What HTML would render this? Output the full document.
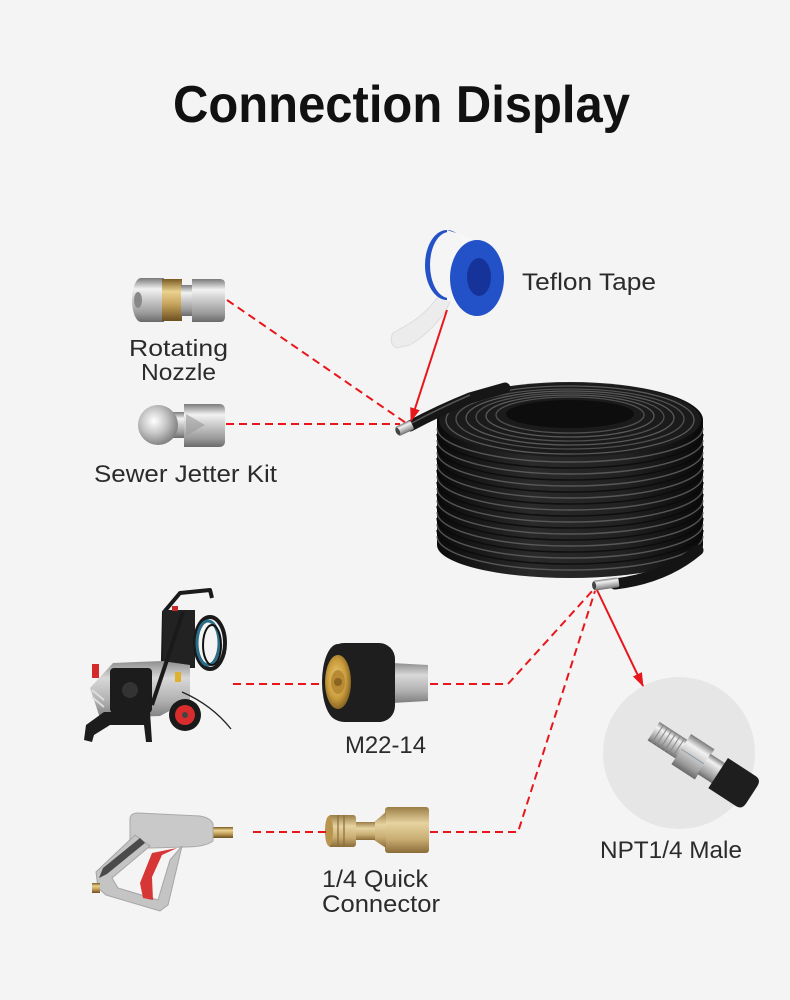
<!DOCTYPE html>
<html><head><meta charset="utf-8">
<style>
html,body{margin:0;padding:0;background:#f4f4f4;}
svg{display:block;}
text{font-family:"Liberation Sans",Arial,sans-serif;fill:#2b2b2b;}
</style></head>
<body>
<svg width="790" height="1000" viewBox="0 0 790 1000" xmlns="http://www.w3.org/2000/svg">
<defs>
  <linearGradient id="sv" x1="0" y1="0" x2="0" y2="1">
    <stop offset="0" stop-color="#7a7a7a"/><stop offset=".25" stop-color="#f2f2f2"/>
    <stop offset=".5" stop-color="#c9c9c9"/><stop offset=".8" stop-color="#9a9a9a"/><stop offset="1" stop-color="#6a6a6a"/>
  </linearGradient>
  <linearGradient id="br" x1="0" y1="0" x2="0" y2="1">
    <stop offset="0" stop-color="#7a5a22"/><stop offset=".3" stop-color="#ead28f"/>
    <stop offset=".6" stop-color="#c6a35c"/><stop offset="1" stop-color="#6e5020"/>
  </linearGradient>
  <linearGradient id="br2" x1="0" y1="0" x2="0" y2="1">
    <stop offset="0" stop-color="#9a7d45"/><stop offset=".35" stop-color="#e6d3a0"/>
    <stop offset=".7" stop-color="#c9ad72"/><stop offset="1" stop-color="#8a6c38"/>
  </linearGradient>
  <radialGradient id="gold" cx=".45" cy=".45" r=".6">
    <stop offset="0" stop-color="#f0d27a"/><stop offset=".6" stop-color="#c99b3c"/><stop offset="1" stop-color="#7a5a1e"/>
  </radialGradient>
  <radialGradient id="ball" cx=".4" cy=".4" r=".65">
    <stop offset="0" stop-color="#ffffff"/><stop offset=".5" stop-color="#c4c4c4"/><stop offset="1" stop-color="#7a7a7a"/>
  </radialGradient>
  <linearGradient id="coilg" x1="0" y1="0" x2="1" y2="0">
    <stop offset="0" stop-color="#0b0b0b"/><stop offset=".35" stop-color="#2a2a2a"/>
    <stop offset=".7" stop-color="#222"/><stop offset="1" stop-color="#0a0a0a"/>
  </linearGradient>
  <linearGradient id="gray" x1="0" y1="0" x2="0" y2="1">
    <stop offset="0" stop-color="#8e8e8e"/><stop offset=".3" stop-color="#d8d8d8"/>
    <stop offset=".7" stop-color="#b0b0b0"/><stop offset="1" stop-color="#7e7e7e"/>
  </linearGradient>
  <marker id="ah" viewBox="0 0 14 10" refX="13" refY="5" markerWidth="14" markerHeight="10" markerUnits="userSpaceOnUse" orient="auto">
    <path d="M0 0 L14 5 L0 10 Z" fill="#e8161b"/>
  </marker>
</defs>

<!-- Title -->
<text x="173" y="122" font-size="52" font-weight="bold" fill="#111" textLength="457" lengthAdjust="spacingAndGlyphs" style="fill:#111">Connection Display</text>

<!-- Hose coil -->
<g>
  <path d="M437 420 A133 38 0 0 1 703 420 L703 545 A133 33 0 0 1 437 545 Z" fill="url(#coilg)"/>
  <g fill="none" stroke="#6a6a6a" stroke-width="1.4" opacity=".75">
    <path d="M437 428 A133 34 0 0 0 703 428"/>
    <path d="M437 440 A133 34 0 0 0 703 440"/>
    <path d="M437 452 A133 34 0 0 0 703 452"/>
    <path d="M437 464 A133 34 0 0 0 703 464"/>
    <path d="M437 476 A133 34 0 0 0 703 476"/>
    <path d="M437 488 A133 34 0 0 0 703 488"/>
    <path d="M437 500 A133 34 0 0 0 703 500"/>
    <path d="M437 512 A133 34 0 0 0 703 512"/>
    <path d="M437 524 A133 34 0 0 0 703 524"/>
    <path d="M437 536 A133 34 0 0 0 703 536"/>
  </g>
  <g fill="none" stroke="#0a0a0a" stroke-width="1.5" opacity=".8">
    <path d="M437 434 A133 34 0 0 0 703 434"/>
    <path d="M437 446 A133 34 0 0 0 703 446"/>
    <path d="M437 458 A133 34 0 0 0 703 458"/>
    <path d="M437 470 A133 34 0 0 0 703 470"/>
    <path d="M437 482 A133 34 0 0 0 703 482"/>
    <path d="M437 494 A133 34 0 0 0 703 494"/>
    <path d="M437 506 A133 34 0 0 0 703 506"/>
    <path d="M437 518 A133 34 0 0 0 703 518"/>
    <path d="M437 530 A133 34 0 0 0 703 530"/>
  </g>
  <ellipse cx="570" cy="420" rx="131" ry="37" fill="#1b1b1b"/>
  <g fill="none" stroke-width="1.3">
    <ellipse cx="570" cy="420" rx="124" ry="34" stroke="#5a5a5a"/>
    <ellipse cx="570" cy="419" rx="114" ry="30" stroke="#505050"/>
    <ellipse cx="570" cy="418" rx="104" ry="27" stroke="#5a5a5a"/>
    <ellipse cx="570" cy="417" rx="94" ry="24" stroke="#505050"/>
    <ellipse cx="570" cy="416" rx="84" ry="21" stroke="#5a5a5a"/>
    <ellipse cx="570" cy="415" rx="74" ry="18" stroke="#505050"/>
  </g>
  <ellipse cx="570" cy="414" rx="64" ry="14" fill="#0d0d0d"/>
  <!-- top tail -->
  <path d="M410 426 Q440 410 470 398 L505 388" fill="none" stroke="#161616" stroke-width="11" stroke-linecap="round"/>
  <path d="M412 423 Q440 408 470 395" fill="none" stroke="#555" stroke-width="1.5"/>
  <g transform="rotate(-25 405 428)">
    <rect x="396" y="423" width="17" height="10" rx="2" fill="url(#sv)"/>
    <ellipse cx="397" cy="428" rx="2" ry="4" fill="#444"/>
  </g>
  <!-- bottom tail -->
  <path d="M615 584 Q665 578 698 550" fill="none" stroke="#141414" stroke-width="11" stroke-linecap="round"/>
  <g transform="rotate(-8 606 584)">
    <rect x="593" y="579" width="26" height="10" rx="2" fill="url(#sv)"/>
    <ellipse cx="594" cy="584" rx="2" ry="4" fill="#444"/>
  </g>
</g>

<!-- Teflon tape -->
<g>
  <path d="M441 292 Q430 310 412 322 L393 333 Q388 342 396 348 L410 345 Q428 335 445 312 L452 298 Z" fill="#ececec" stroke="#dcdcdc"/>
  <ellipse cx="447" cy="265" rx="22" ry="35" fill="#2451c6"/>
  <path d="M447 230 L477 240 L477 316 L447 300 Z" fill="#f7f7f7"/>
  <ellipse cx="449" cy="265" rx="19" ry="33" fill="#f5f5f5"/>
  <ellipse cx="477" cy="278" rx="27" ry="38" fill="#2352c8"/>
  <ellipse cx="479" cy="277" rx="12" ry="19" fill="#16339a"/>
</g>
<text x="522" y="290" font-size="24" textLength="134" lengthAdjust="spacingAndGlyphs">Teflon Tape</text>

<!-- Rotating nozzle -->
<g>
  <rect x="140" y="278" width="24" height="44" fill="url(#sv)"/>
  <ellipse cx="141" cy="300" rx="9" ry="22" fill="url(#sv)"/>
  <ellipse cx="138" cy="300" rx="4" ry="8" fill="#888"/>
  <rect x="162" y="279" width="20" height="42" fill="url(#br)"/>
  <rect x="181" y="285" width="12" height="31" fill="url(#sv)"/>
  <path d="M192 279 L220 279 Q225 279 225 284 L225 317 Q225 322 220 322 L192 322 Z" fill="url(#sv)"/>
</g>
<text x="129" y="356" font-size="23" textLength="99" lengthAdjust="spacingAndGlyphs">Rotating</text>
<text x="141" y="380" font-size="23" textLength="75" lengthAdjust="spacingAndGlyphs">Nozzle</text>

<!-- Sewer nozzle -->
<g>
  <rect x="172" y="412" width="14" height="26" fill="url(#sv)"/>
  <circle cx="158" cy="425" r="20" fill="url(#ball)"/>
  <path d="M184 404 L219 404 Q225 404 225 410 L225 441 Q225 447 219 447 L184 447 Z" fill="url(#sv)"/>
  <path d="M186 414 L205 425 L186 436 Z" fill="#9a9a9a" opacity=".6"/>
</g>
<text x="94" y="482" font-size="24" textLength="183" lengthAdjust="spacingAndGlyphs">Sewer Jetter Kit</text>

<!-- Pressure washer -->
<g>
  <path d="M162 705 L164 612 L180 593 L210 590 L212 598" fill="none" stroke="#1a1a1a" stroke-width="4" stroke-linejoin="round"/>
  <rect x="163" y="610" width="32" height="58" fill="#222"/>
  <rect x="172" y="606" width="6" height="5" fill="#c62828"/>
  <ellipse cx="210" cy="643" rx="15" ry="26" fill="none" stroke="#1a1a1a" stroke-width="4"/>
  <ellipse cx="208" cy="643" rx="11" ry="22" fill="none" stroke="#2b6d86" stroke-width="3"/>
  <ellipse cx="212" cy="645" rx="9" ry="20" fill="none" stroke="#111" stroke-width="2"/>
  <path d="M90 688 L113 663 L162 661 L190 665 L190 700 L160 716 L100 718 Z" fill="url(#gray)"/>
  <rect x="110" y="668" width="42" height="45" rx="4" fill="#1c1c1c"/>
  <circle cx="130" cy="690" r="8" fill="#333"/>
  <path d="M183 612 L152 705" stroke="#1a1a1a" stroke-width="4"/>
  <path d="M84 740 L86 725 L104 712 L150 712 L152 742 L146 742 L144 725 L110 725 L94 735 L92 742 Z" fill="#1c1c1c"/>
  <rect x="92" y="664" width="7" height="14" fill="#d42a2a"/>
  <path d="M92 690 L104 700 M92 697 L104 707" stroke="#ddd" stroke-width="2"/>
  <circle cx="185" cy="715" r="16" fill="#1a1a1a"/>
  <circle cx="185" cy="715" r="10" fill="#d92c2c"/>
  <circle cx="185" cy="715" r="3" fill="#444"/>
  <path d="M182 692 Q212 705 231 729" fill="none" stroke="#222" stroke-width="1.3"/>
  <rect x="175" y="672" width="6" height="10" fill="#e0b030"/>
</g>

<!-- M22-14 -->
<g>
  <path d="M392 663 L428 665 L428 701 L392 703 Z" fill="url(#gray)"/>
  <rect x="328" y="643" width="67" height="79" rx="16" fill="#1e1e1e"/>
  <ellipse cx="338" cy="682" rx="16" ry="38" fill="#1e1e1e"/>
  <ellipse cx="338" cy="682" rx="13" ry="27" fill="url(#gold)"/>
  <ellipse cx="338" cy="682" rx="7" ry="12" fill="#b88a34"/>
  <circle cx="338" cy="682" r="4" fill="#8a6422"/>
</g>
<text x="345" y="753" font-size="24" textLength="81" lengthAdjust="spacingAndGlyphs">M22-14</text>

<!-- Gun -->
<g>
  <rect x="213" y="827" width="20" height="11" fill="url(#br)"/>
  <path d="M130 818 Q131 813 138 813 L200 816 Q211 818 213 824 L213 841 Q205 847 185 847 L150 848 Q134 848 130 840 Z" fill="#c9c9c9" stroke="#a9a9a9"/>
  <path d="M182 846 L168 905 L160 911 L106 895 L98 888 L96 872 L135 835 L150 846 L112 878 L118 888 L158 900 L170 860 Z" fill="#c4c4c4" stroke="#a5a5a5"/>
  <path d="M140 838 L103 868 L99 878 L107 874 L145 843 Z" fill="#4a4a4a"/>
  <path d="M177 848 L152 853 L140 883 L143 898 L153 900 L152 877 L162 855 Z" fill="#d63636"/>
  <rect x="92" y="883" width="8" height="10" fill="url(#br)"/>
</g>

<!-- Quick connector -->
<g>
  <rect x="385" y="807" width="44" height="46" rx="3" fill="url(#br2)"/>
  <path d="M374 822 L386 812 L386 848 L374 840 Z" fill="url(#br2)"/>
  <rect x="355" y="822" width="20" height="18" fill="url(#br2)"/>
  <rect x="328" y="815" width="28" height="32" rx="3" fill="url(#br2)"/>
  <ellipse cx="329" cy="831" rx="4" ry="15" fill="#b8944c"/>
  <path d="M338 815 L338 847 M344 815 L344 847" stroke="#8a6c38" stroke-width="1.2"/>
</g>
<text x="322" y="887" font-size="24" textLength="106" lengthAdjust="spacingAndGlyphs">1/4 Quick</text>
<text x="322" y="912" font-size="24" textLength="118" lengthAdjust="spacingAndGlyphs">Connector</text>

<!-- NPT circle -->
<circle cx="679" cy="753" r="76" fill="#e6e6e6"/>
<g transform="rotate(33 698 760)">
  <rect x="645" y="749" width="34" height="22" fill="url(#sv)"/>
  <g stroke="#888" stroke-width="1">
    <path d="M650 749 L650 771 M655 749 L655 771 M660 749 L660 771 M665 749 L665 771 M670 749 L670 771 M675 749 L675 771"/>
  </g>
  <rect x="678" y="742" width="28" height="36" fill="url(#sv)"/>
  <path d="M678 760 L706 760" stroke="#8a9aa6" stroke-width="1"/>
  <rect x="705" y="748" width="18" height="24" fill="url(#sv)"/>
  <path d="M722 742 L755 742 Q762 742 762 750 L762 770 Q762 778 755 778 L722 778 Z" fill="#1e1e1e"/>
</g>
<text x="600" y="858" font-size="24" textLength="142" lengthAdjust="spacingAndGlyphs">NPT1/4 Male</text>

<!-- Connectors -->
<g fill="none" stroke="#e8161b" stroke-width="2" stroke-dasharray="8 5">
  <path d="M227 300 L406 423"/>
  <path d="M226 424 L400 424"/>
  <path d="M233 684 L322 684"/>
  <path d="M430 684 L508 684 L594 589"/>
  <path d="M253 832 L327 832"/>
  <path d="M430 832 L518 832 L595 591"/>
</g>
<g fill="none" stroke="#e8161b" stroke-width="2">
  <path d="M447 310 L411 421" marker-end="url(#ah)"/>
  <path d="M597 590 L643 686" marker-end="url(#ah)"/>
</g>
</svg>
</body></html>
